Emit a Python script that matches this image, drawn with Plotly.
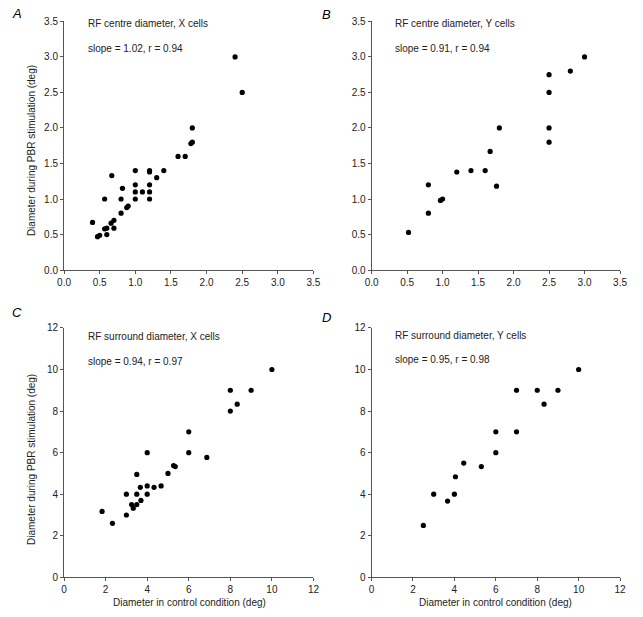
import plotly.graph_objects as go

# ---- data ----
a_x = [0.40, 0.47, 0.50, 0.57, 0.60, 0.60, 0.57, 0.67, 0.66, 0.70, 0.70, 0.80, 0.80, 0.82, 0.88, 0.90,
       1.0, 1.0, 1.0, 1.0, 1.1, 1.2, 1.2, 1.2, 1.2, 1.2, 1.3, 1.4, 1.6, 1.7, 1.78, 1.8, 1.8, 2.4, 2.5]
a_y = [0.67, 0.47, 0.49, 0.58, 0.59, 0.50, 1.0, 1.33, 0.66, 0.70, 0.59, 0.80, 1.0, 1.15, 0.88, 0.90,
       1.4, 1.2, 1.1, 1.0, 1.1, 1.4, 1.38, 1.2, 1.1, 1.0, 1.3, 1.4, 1.6, 1.6, 1.78, 1.8, 2.0, 3.0, 2.5]

b_x = [0.52, 0.8, 0.8, 0.97, 1.0, 1.2, 1.4, 1.6, 1.67, 1.76, 1.8, 2.5, 2.5, 2.5, 2.5, 2.8, 3.0]
b_y = [0.53, 1.2, 0.8, 0.98, 1.0, 1.38, 1.4, 1.4, 1.67, 1.18, 2.0, 2.75, 2.5, 2.0, 1.8, 2.8, 3.0]

c_x = [1.83, 2.33, 3.0, 3.0, 3.25, 3.33, 3.5, 3.5, 3.5, 3.67, 3.7, 4.0, 4.0, 4.0, 4.33, 4.67,
       5.0, 5.27, 5.35, 6.0, 6.0, 6.87, 8.0, 8.0, 8.33, 9.0, 10.0]
c_y = [3.17, 2.6, 3.0, 4.0, 3.5, 3.33, 3.5, 4.0, 4.95, 4.33, 3.7, 4.0, 4.4, 6.0, 4.33, 4.4,
       5.0, 5.38, 5.33, 7.0, 6.0, 5.77, 9.0, 8.0, 8.33, 9.0, 10.0]

d_x = [2.5, 3.0, 3.67, 4.0, 4.05, 4.45, 5.3, 6.0, 6.0, 7.0, 7.0, 8.0, 8.33, 9.0, 10.0]
d_y = [2.5, 4.0, 3.67, 4.0, 4.84, 5.5, 5.33, 7.0, 6.0, 9.0, 7.0, 9.0, 8.33, 9.0, 10.0]

panel_letters = ["A", "B", "C", "D"]
panel_titles = ["RF centre diameter, X cells", "RF centre diameter, Y cells",
                "RF surround diameter, X cells", "RF surround diameter, Y cells"]
panel_stats = ["slope = 1.02, r = 0.94", "slope = 0.91, r = 0.94",
               "slope = 0.94, r = 0.97", "slope = 0.95, r = 0.98"]
centre_ticks = [0.0, 0.5, 1.0, 1.5, 2.0, 2.5, 3.0, 3.5]
centre_ticklabels = ["0.0", "0.5", "1.0", "1.5", "2.0", "2.5", "3.0", "3.5"]
surround_ticks = [0, 2, 4, 6, 8, 10, 12]
x_title = "Diameter in control condition (deg)"
y_title = "Diameter during PBR stimulation (deg)"

W, H = 643, 617
FONT = "Liberation Sans, Arial, Helvetica, sans-serif"
TXT = "#222222"
AX = "#555555"

def px(x):
    return x / W

def py(y):
    return 1 - y / H

fig = go.Figure()

datasets = [(a_x, a_y), (b_x, b_y), (c_x, c_y), (d_x, d_y)]
xdom = [[px(58.3), px(313.3)], [px(372.7), px(626.7)]]
ydom = [[py(269.3), py(15.7)], [py(582.7), py(328.3)]]

for i, (xs, ys) in enumerate(datasets):
    n = i + 1
    fig.add_trace(go.Scatter(x=xs, y=ys, mode="markers",
                             marker=dict(color="black", size=5.2, line=dict(width=0)),
                             xaxis=f"x{n}" if n > 1 else "x", yaxis=f"y{n}" if n > 1 else "y",
                             showlegend=False, hoverinfo="skip"))

layout = dict(width=W, height=H, margin=dict(l=0, r=0, t=0, b=0),
              paper_bgcolor="white", plot_bgcolor="white", showlegend=False,
              font=dict(family=FONT, size=10, color=TXT))

for i in range(4):
    n = i + 1
    col = i % 2
    row = i // 2
    centre = row == 0
    rng = [0, 3.5] if centre else [0, 12]
    ticks = centre_ticks if centre else surround_ticks
    labels = centre_ticklabels if centre else [str(t) for t in surround_ticks]
    common = dict(range=rng, tickmode="array", tickvals=ticks, ticktext=labels,
                  showgrid=False, zeroline=False, showline=True, linecolor=AX, linewidth=1,
                  ticks="outside", ticklen=3, tickwidth=1, tickcolor=AX,
                  tickfont=dict(family=FONT, size=10, color=TXT), fixedrange=True)
    xa = dict(common, domain=xdom[col], anchor=f"y{n}" if n > 1 else "y")
    ya = dict(common, domain=ydom[row], anchor=f"x{n}" if n > 1 else "x")
    layout["xaxis" + (str(n) if n > 1 else "")] = xa
    layout["yaxis" + (str(n) if n > 1 else "")] = ya

fig.update_layout(**layout)

# annotations (positions in pixels)
letter_pos = [(10.5, 7.5), (326.5, 8.5), (10.5, 312.5), (326.5, 317.5)]
title_pos = [(81, 18.3), (394.3, 18.3), (81, 336.7), (394.3, 335.7)]
stats_pos = [(81, 43.3), (394.3, 43.3), (81, 362.3), (394.3, 361)]

for i in range(4):
    lx, ly = letter_pos[i]
    fig.add_annotation(text=f"<i>{panel_letters[i]}</i>", x=px(lx), y=py(ly), xref="paper", yref="paper",
                       showarrow=False, xanchor="center", yanchor="middle",
                       font=dict(family=FONT, size=13, color="black"))
    tx, ty = title_pos[i]
    fig.add_annotation(text=panel_titles[i], x=px(tx), y=py(ty), xref="paper", yref="paper",
                       showarrow=False, xanchor="left", yanchor="middle",
                       font=dict(family=FONT, size=10, color=TXT))
    sx, sy = stats_pos[i]
    fig.add_annotation(text=panel_stats[i], x=px(sx), y=py(sy), xref="paper", yref="paper",
                       showarrow=False, xanchor="left", yanchor="middle",
                       font=dict(family=FONT, size=10, color=TXT))

# axis titles
for (cx, cy) in [(24.5, 147), (24.5, 462)]:
    fig.add_annotation(text=y_title, x=px(cx), y=py(cy), xref="paper", yref="paper",
                       showarrow=False, textangle=-90, xanchor="center", yanchor="middle",
                       font=dict(family=FONT, size=10, color=TXT))
for (cx, cy) in [(186.7, 608.5), (499.5, 608.5)]:
    fig.add_annotation(text=x_title, x=px(cx), y=py(cy), xref="paper", yref="paper",
                       showarrow=False, xanchor="center", yanchor="middle",
                       font=dict(family=FONT, size=10, color=TXT))

fig.write_html("out.html",
               config={"displayModeBar": False, "staticPlot": True},
               post_script="document.body.style.margin='0';document.body.style.overflow='hidden';")
